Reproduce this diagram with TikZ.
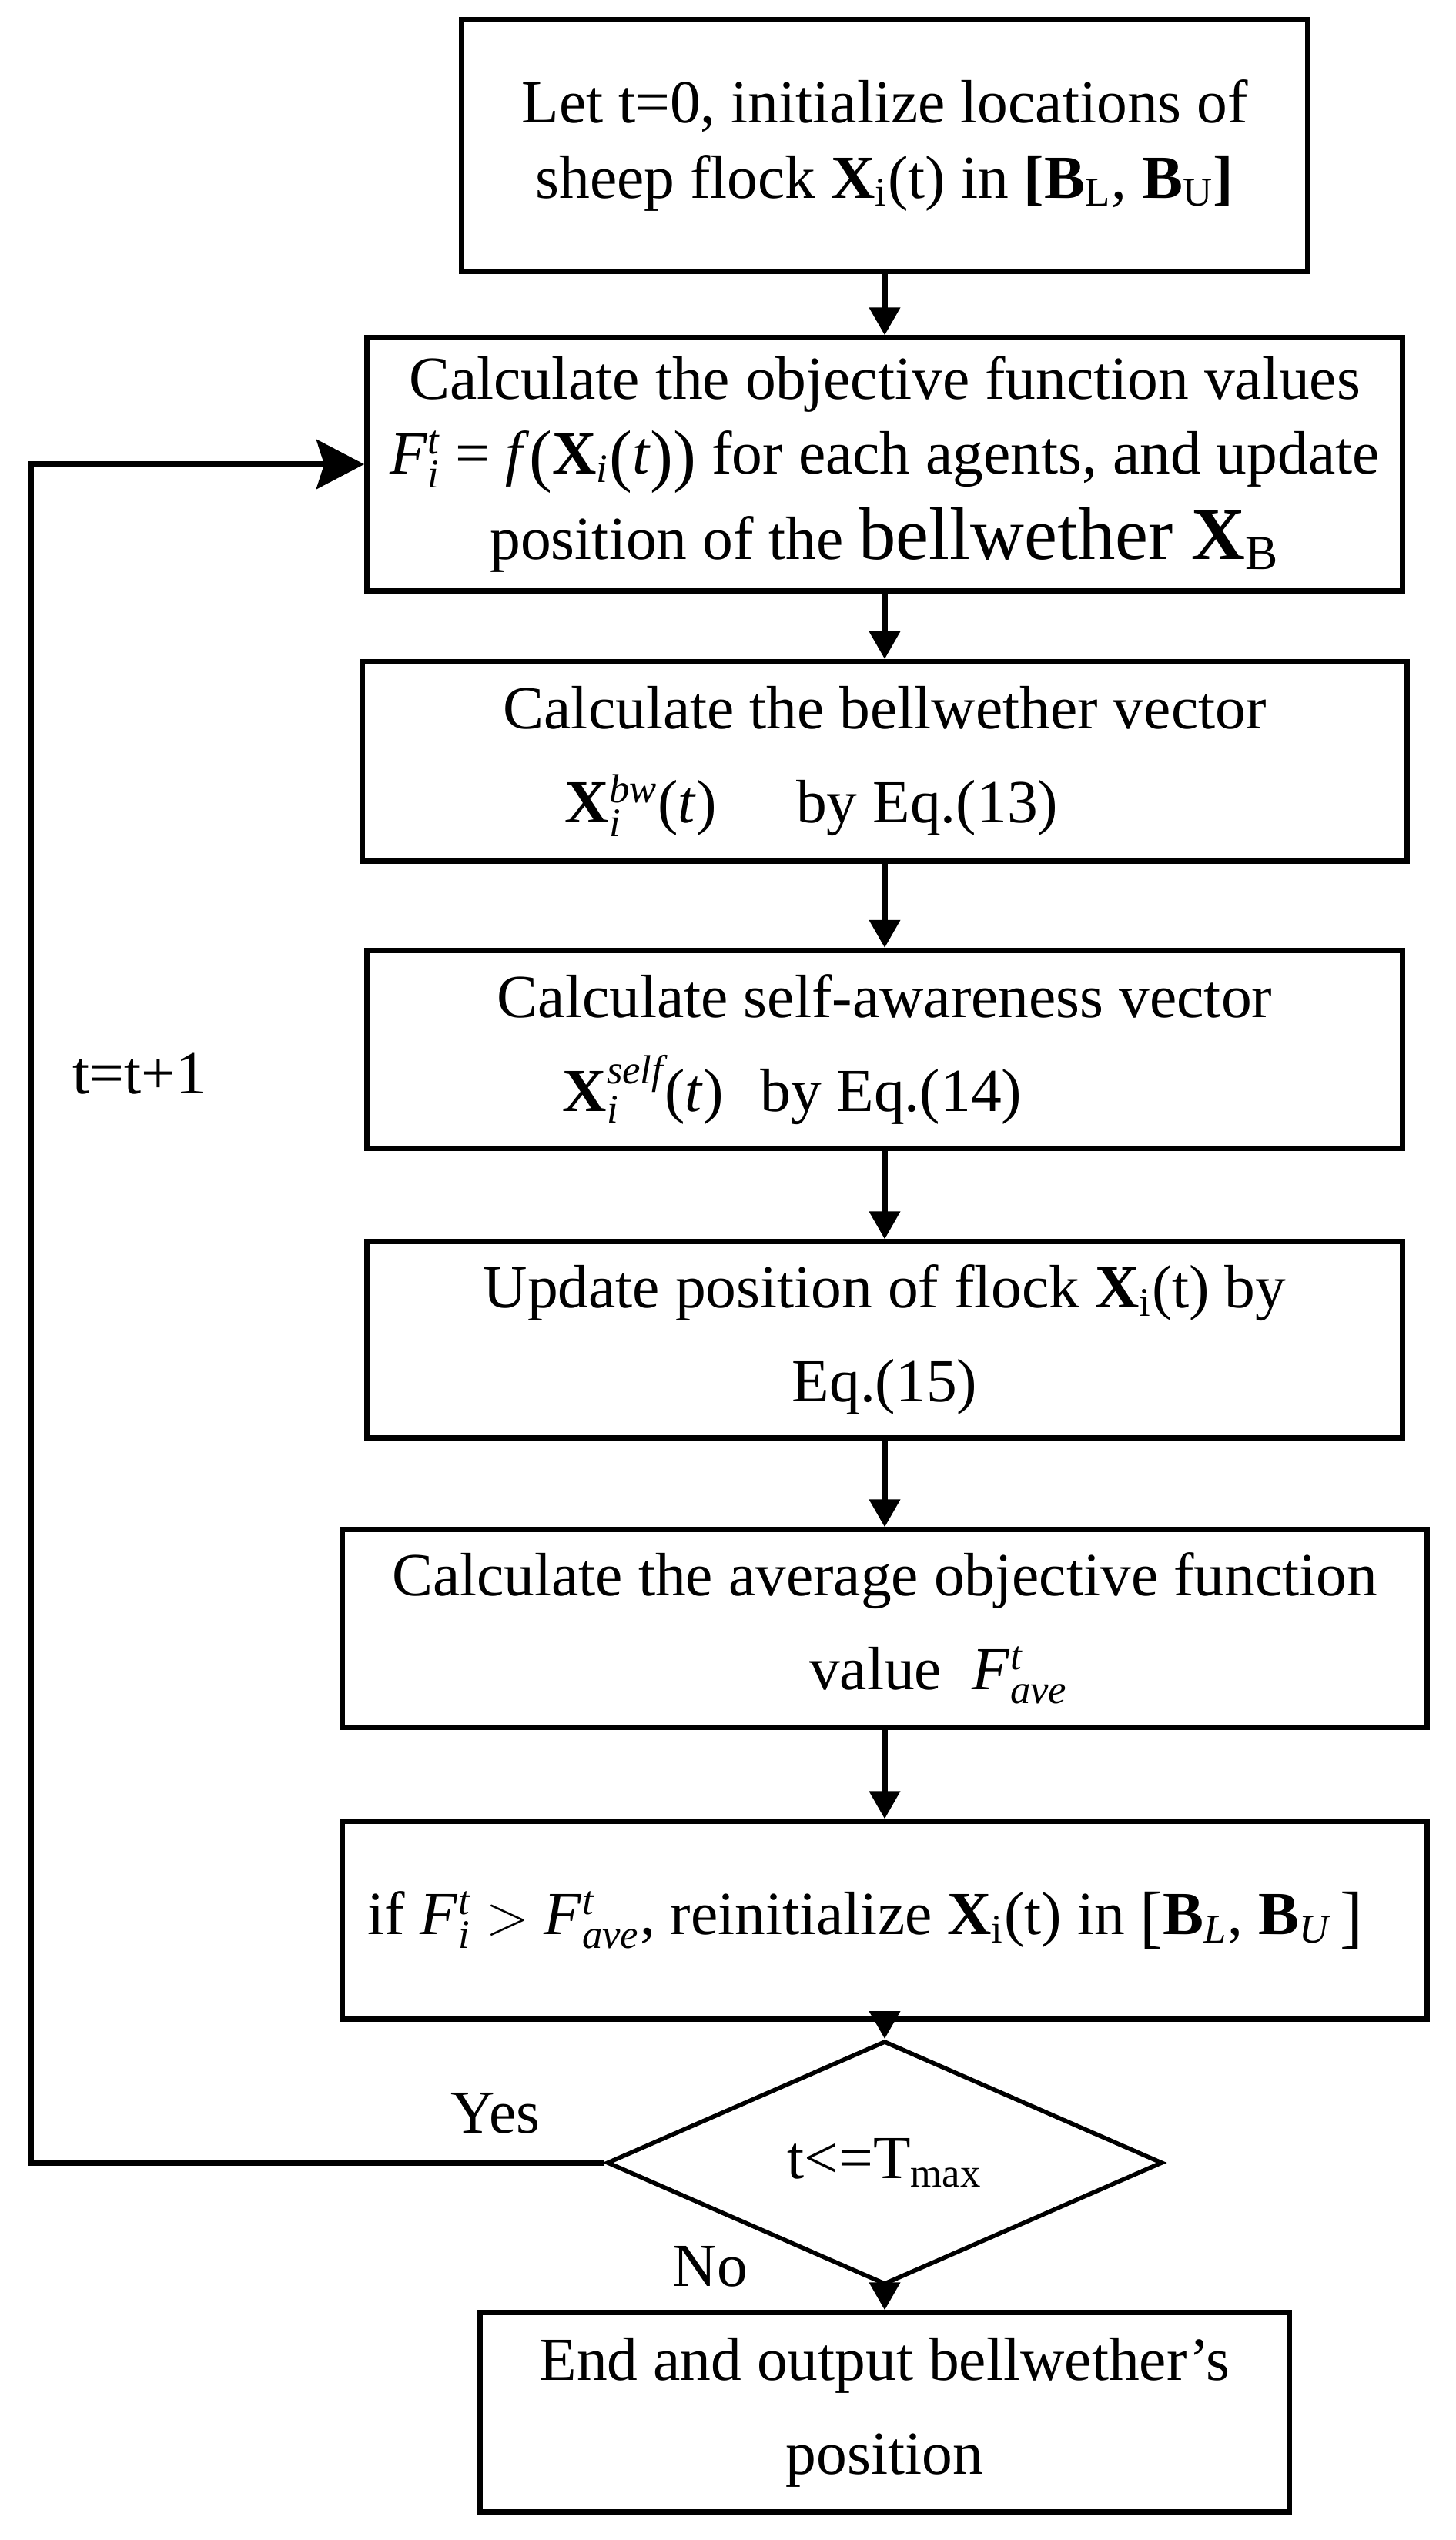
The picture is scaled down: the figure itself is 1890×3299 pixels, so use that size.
\documentclass[tikz,border=0pt]{standalone}
\usepackage{fontspec}
\setmainfont{Liberation Serif}
\usetikzlibrary{arrows.meta,shapes.geometric}
\newcommand\supsub[2]{\ensuremath{^{\mbox{\fontsize{15}{15}\selectfont\itshape #1}}_{\mbox{\fontsize{15}{15}\selectfont\itshape #2}}}}
\newcommand\upsub[1]{\ensuremath{_{\mbox{\fontsize{15}{15}\selectfont #1}}}}
\newcommand\itsub[1]{\ensuremath{_{\mbox{\fontsize{15}{15}\selectfont\itshape #1}}}}
\newcommand\bigbr[1]{\raisebox{-0.08em}{\fontsize{25.5}{25.5}\selectfont #1}}
\begin{document}
\begin{tikzpicture}[x=0.01cm,y=-0.01cm,
  box/.style={draw, line width=2pt, rectangle, align=center, inner sep=0pt,
    font=\fontsize{22.6}{34.7}\selectfont},
  conn/.style={line width=2pt, -{Triangle[length=0.36cm,width=0.39cm]}},
  loopline/.style={line width=2.2pt, -{Stealth[length=0.62cm,width=0.64cm,inset=0.1cm]}},
  lbl/.style={inner sep=0pt, anchor=base west, font=\fontsize{22.6}{27}\selectfont}]
\useasboundingbox (0,0) rectangle (1890,3299);
\fill[white] (0,0) rectangle (1890,3299);

\node[box, minimum width=10.99cm, minimum height=3.26cm,
  font=\fontsize{22.6}{27.6}\selectfont] (B1) at (1149,189)
  {Let t=0, initialize locations of\\
   sheep flock \textbf{X}\upsub{i}(t) in \textbf{[B}\upsub{L}, \textbf{B}\upsub{U}\textbf{]}};

\node[box, minimum width=13.44cm, minimum height=3.28cm,
  font=\fontsize{22.6}{27.5}\selectfont] (B2) at (1149,603)
  {Calculate the objective function values\\
   \textit{F}\supsub{t}{i} = \textit{f}\bigbr{(}\textbf{X}\itsub{i}\bigbr{(}\textit{t}\bigbr{))}\hspace{0.25em}for each agents, and update\hspace*{0.3cm}\\[4pt]
   position of the {\fontsize{27.5}{27.5}\selectfont bellwether \textbf{X}\upsub{\fontsize{18}{18}\selectfont B}}};

\node[box, minimum width=13.56cm, minimum height=2.59cm] (B3) at (1149,989)
  {Calculate the bellwether vector\\
   \textbf{X}\supsub{bw}{i}(\textit{t})\hspace{1.3em}by Eq.(13)\hspace*{1.9cm}};

\node[box, minimum width=13.44cm, minimum height=2.57cm] (B4) at (1149,1363)
  {Calculate self-awareness vector\\
   \textbf{X}\supsub{self}{i}(\textit{t})\hspace{0.6em}by Eq.(14)\hspace*{2.4cm}};

\node[box, minimum width=13.44cm, minimum height=2.54cm] (B5) at (1149,1740)
  {Update position of flock \textbf{X}\upsub{i}(t) by\\
   Eq.(15)};

\node[box, minimum width=14.08cm, minimum height=2.56cm] (B6) at (1149,2115)
  {Calculate the average objective function\\
   \hspace*{1.4cm}value~~\textit{F}\supsub{t}{ave}};

\node[box, minimum width=14.08cm, minimum height=2.56cm] (B7) at (1149,2494)
  {if \textit{F}\supsub{t}{i} $>$ \textit{F}\supsub{t}{ave}, reinitialize \textbf{X}\upsub{i}(t) in \bigbr{[}\textbf{B}\itsub{L}, \textbf{B}\itsub{U}\,\bigbr{]}\hspace*{0.5cm}};

\node[draw, line width=1.6pt, diamond, inner sep=0pt, minimum width=7.21cm,
  minimum height=2.56cm, font=\fontsize{22.6}{27}\selectfont] (D) at (1149,2809)
  {t\textless=T\upsub{max}};

\node[box, minimum width=10.50cm, minimum height=2.58cm] (B8) at (1149,3133)
  {End and output bellwether’s\\
   position};

\coordinate (L) at (40,1500);

\draw[conn] (B1) -- (B2);
\draw[conn] (B2) -- (B3);
\draw[conn] (B3) -- (B4);
\draw[conn] (B4) -- (B5);
\draw[conn] (B5) -- (B6);
\draw[conn] (B6) -- (B7);
\draw[conn] (B7) -- (D);
\draw[conn] (D) -- (B8);
\draw[loopline] (D.west) -| (L) |- (B2.west);

\node[lbl] (tt) at (94,1420) {t=t+1};
\node[lbl] (yes) at (585,2770) {Yes};
\node[lbl] (no) at (873,2969) {No};
\end{tikzpicture}
\end{document}
